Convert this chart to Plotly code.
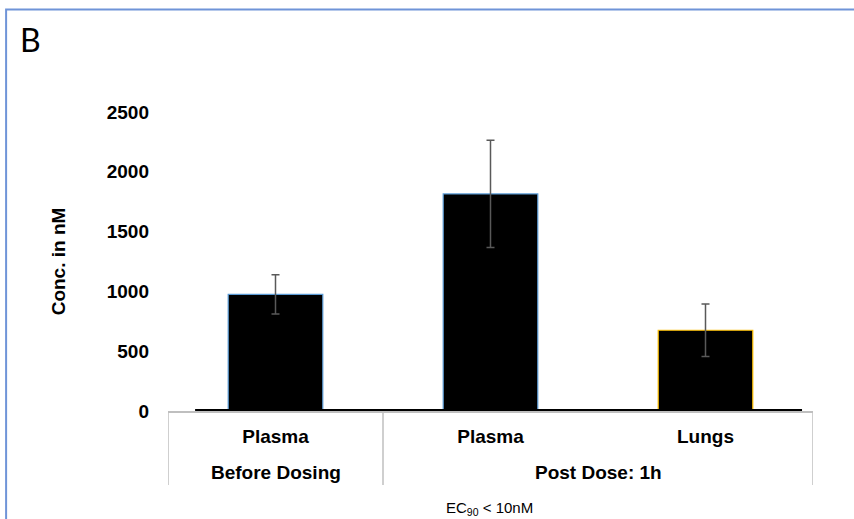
import plotly.graph_objects as go

samples = ["Plasma", "Plasma", "Lungs"]
groups = ["Before Dosing", "Post Dose: 1h"]
group_members = [[0], [1, 2]]
conc = [975, 1815, 675]
err = [165, 448, 220]
outline = ["#5b9bd5", "#5b9bd5", "#ffc000"]
yticks = [0, 500, 1000, 1500, 2000, 2500]

FONT = "Liberation Sans, Arial, sans-serif"
pos = list(range(len(samples)))

fig = go.Figure()
fig.add_trace(go.Bar(
    x=pos,
    y=conc,
    marker=dict(color="#000000", line=dict(color=outline, width=1.2)),
    width=0.44,
    error_y=dict(type="data", array=err, visible=True, color="#595959", thickness=1.5, width=4),
    showlegend=False,
))

fig.update_layout(
    width=854, height=519,
    margin=dict(l=168, r=41, t=112, b=108),
    paper_bgcolor="white", plot_bgcolor="white",
    font=dict(family=FONT, color="#000000"),
    xaxis=dict(
        range=[-0.5, len(samples) - 0.5], tickvals=pos, ticktext=samples,
        showline=True, linecolor="#bfbfbf", linewidth=1.5,
        showgrid=False, zeroline=False, ticks="", ticklabelstandoff=7,
        tickfont=dict(family=FONT, size=19, color="#000000", weight="bold"),
    ),
    yaxis=dict(
        range=[0, 2500], tickvals=yticks, showgrid=False, zeroline=False,
        showline=False, ticks="", ticklabelstandoff=18,
        tickfont=dict(family=FONT, size=19, color="#000000", weight="bold"),
        title=dict(text="Conc. in nM", standoff=36,
                   font=dict(family=FONT, size=19, color="#000000", weight="bold")),
    ),
)

# thick black baseline
fig.add_shape(type="line", xref="paper", yref="y", x0=0.042, x1=0.983, y0=0, y1=0,
              line=dict(color="#000000", width=4))

# group dividers of the two-level category axis
bounds = [-0.5]
for members in group_members:
    bounds.append(members[-1] + 0.5)
for b in bounds:
    fig.add_shape(type="line", xref="x", yref="paper", x0=b, x1=b, y0=0, y1=-0.2475,
                  line=dict(color="#bfbfbf", width=1.5))

# group labels (second level)
for g, members in zip(groups, group_members):
    fig.add_annotation(text=g, xref="x", yref="paper",
                       x=sum(members) / len(members), y=(411 - 472) / 299,
                       xanchor="center", yanchor="middle", showarrow=False,
                       font=dict(family=FONT, size=19, color="#000000", weight="bold"))

# panel frame (light blue border)
fig.add_shape(type="rect", xref="paper", yref="paper", x0=-0.251, x1=1.2, y0=-0.6, y1=1.343,
              line=dict(color="#6f94d8", width=2), fillcolor="rgba(0,0,0,0)", layer="below")

# panel letter
fig.add_annotation(text="B", xref="paper", yref="paper", x=-0.233, y=1.242,
                   xanchor="left", yanchor="middle", showarrow=False,
                   font=dict(family="Lato, Open Sans, sans-serif", size=32, color="#000000"))

# footnote
fig.add_annotation(text="EC<sub>90</sub> &lt; 10nM", xref="paper", yref="paper",
                   x=(489 - 168) / 645, y=(411 - 508) / 299,
                   xanchor="center", yanchor="middle", showarrow=False,
                   font=dict(family=FONT, size=15, color="#000000"))

fig.write_html("out.html")
